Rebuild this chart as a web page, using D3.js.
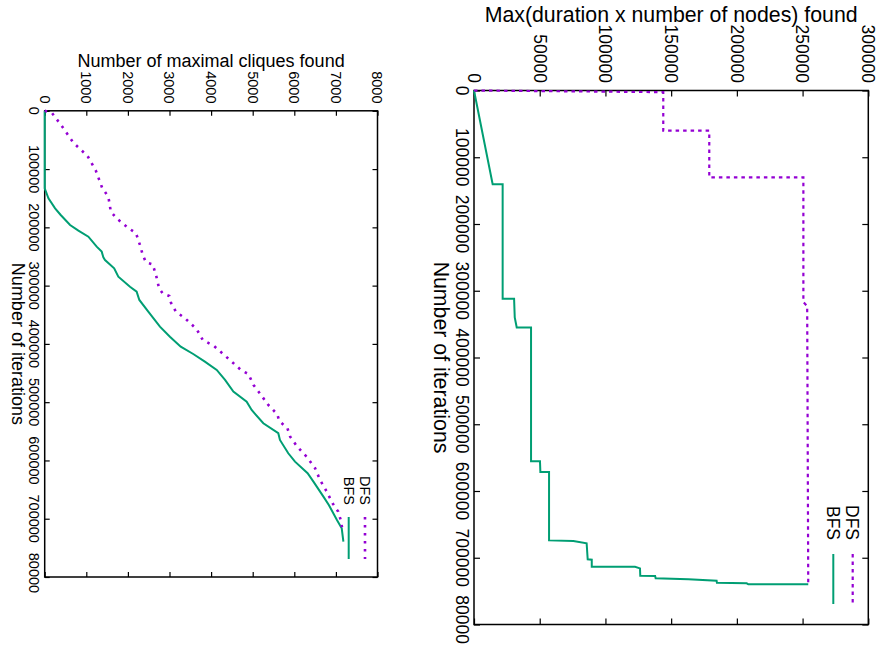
<!DOCTYPE html>
<html>
<head>
<meta charset="utf-8">
<script src="https://cdn.jsdelivr.net/npm/d3@7/dist/d3.min.js"></script>
<style>
  html, body { margin: 0; padding: 0; background: #fff; }
  svg { display: block; }
  text { font-family: "Liberation Sans", Arial, Helvetica, sans-serif; fill: #000; }
</style>
</head>
<body>
<svg id="chart" width="878" height="646"></svg>
<script>
// ---------------- DATA ----------------
const iterTicks = [0, 100000, 200000, 300000, 400000, 500000, 600000, 700000, 800000];
const iterTickLabels = ["0", "100000", "200000", "300000", "400000", "500000", "600000", "700000", "80000"];
const cliqueTicks = [0, 1000, 2000, 3000, 4000, 5000, 6000, 7000, 8000];
const durationTicks = [0, 50000, 100000, 150000, 200000, 250000, 300000];
const seriesNames = ["DFS", "BFS"];

// [iteration, number of maximal cliques found]
const cliquesDFS = [
  [0, 0], [3300, 170], [26100, 410], [54700, 690], [77600, 1030], [102800, 1230],
  [133000, 1385], [147400, 1530], [173100, 1590], [184500, 1730], [200000, 1990],
  [210200, 2195], [230300, 2290], [248000, 2360], [260000, 2435], [263400, 2595],
  [281700, 2675], [304600, 2750], [313200, 2835], [317800, 2995], [329300, 3035],
  [344700, 3155], [356100, 3375], [375000, 3655], [393300, 3800], [403600, 4070],
  [427600, 4450], [445900, 4735], [451600, 4895], [470500, 5020], [484700, 5170],
  [504800, 5375], [520800, 5590], [532300, 5640], [544800, 5835], [559200, 5900],
  [576300, 6070], [594600, 6310], [613400, 6500], [633500, 6620], [653500, 6780],
  [673500, 6920], [687800, 7055], [702100, 7115], [716000, 7150]
];
const cliquesBFS = [
  [0, 0], [133000, 0], [150100, 90], [167300, 250], [178800, 385], [196000, 610],
  [205700, 810], [216000, 1050], [233200, 1250], [241700, 1370], [251400, 1410],
  [256000, 1450], [270300, 1670], [284600, 1770], [301800, 2050], [310400, 2210],
  [324600, 2275], [344700, 2490], [370400, 2770], [387600, 3010], [404800, 3270],
  [417300, 3570], [430500, 3850], [444700, 4135], [461900, 4335], [481900, 4535],
  [499100, 4855], [513400, 4975], [536200, 5255], [553300, 5615], [564800, 5655],
  [587700, 5855], [602100, 6017], [622000, 6320], [636400, 6460], [644900, 6540],
  [662100, 6700], [676400, 6830], [702100, 7025], [716400, 7140], [739300, 7180]
];
// [iteration, max(duration x number of nodes) found]
const durationDFS = [
  [0, 0], [2500, 144000], [60000, 144000], [60000, 179000], [130000, 179000],
  [130000, 250600], [317000, 250600], [323000, 253500], [739700, 254300]
];
const durationBFS = [
  [0, 0], [140400, 14200], [140400, 21800], [312000, 21800], [312000, 30500],
  [340000, 31000], [348000, 31800], [355000, 32500], [355000, 43400], [555500, 43400],
  [555500, 50200], [571500, 50500], [571500, 57100], [674000, 57100], [675000, 75600],
  [678300, 85700], [702300, 86500], [703000, 89600], [713400, 89600], [713400, 122500],
  [716000, 126300], [726900, 126500], [727200, 137800], [730800, 138200],
  [732300, 163100], [734300, 184600], [737300, 184800], [738300, 207500],
  [739700, 208700], [739700, 254300]
];

const GREEN = "#009e73", PURPLE = "#9400d3";

const svg = d3.select("#chart");

function drawPanel(cfg) {
  const g = svg.append("g");
  const x = d3.scaleLinear().domain([0, cfg.vmax]).range([cfg.l, cfg.r]);
  const y = d3.scaleLinear().domain([0, 800000]).range([cfg.t, cfg.b]);

  // inward ticks on all four sides
  const tk = cfg.tick;
  const axes = [
    [d3.axisTop(x).tickValues(cfg.vTicks), `translate(0,${cfg.t})`],
    [d3.axisBottom(x).tickValues(cfg.vTicks), `translate(0,${cfg.b})`],
    [d3.axisLeft(y).tickValues(iterTicks), `translate(${cfg.l},0)`],
    [d3.axisRight(y).tickValues(iterTicks), `translate(${cfg.r},0)`]
  ];
  axes.forEach(([ax, tr]) => {
    const a = g.append("g").attr("transform", tr)
      .call(ax.tickSizeInner(-tk).tickSizeOuter(0).tickFormat(""));
    a.select(".domain").remove();
    a.selectAll("line").attr("stroke", "#000").attr("stroke-width", 1.2);
  });

  // border
  g.append("rect").attr("x", cfg.l).attr("y", cfg.t)
    .attr("width", cfg.r - cfg.l).attr("height", cfg.b - cfg.t)
    .attr("fill", "none").attr("stroke", "#000").attr("stroke-width", 1.5);

  // series
  const line = d3.line().x(d => x(d[1])).y(d => y(d[0]));
  g.append("path").datum(cfg.bfs).attr("d", line)
    .attr("fill", "none").attr("stroke", GREEN).attr("stroke-width", cfg.bfsW)
    .attr("stroke-linejoin", "miter");
  g.append("path").datum(cfg.dfs).attr("d", line)
    .attr("fill", "none").attr("stroke", PURPLE).attr("stroke-width", cfg.dfsW)
    .attr("stroke-dasharray", cfg.dash);

  // value tick labels (rotated, above the box)
  g.selectAll(".vlab").data(cfg.vTicks).join("text")
    .attr("class", "vlab")
    .attr("transform", d => `translate(${x(d)},${cfg.vLabEnd}) rotate(90)`)
    .attr("text-anchor", "end").attr("dy", "0.35em")
    .style("font-size", cfg.fs + "px")
    .text(d => d3.format("d")(d));

  // iteration tick labels (rotated, left of the box)
  const probe = g.append("text").style("font-size", cfg.fs + "px").text("800000");
  const fullW = probe.node().getComputedTextLength();
  probe.remove();
  g.selectAll(".ilab").data(iterTicks).join("text")
    .attr("class", "ilab")
    .attr("transform", (d, i) => {
      const last = i === iterTicks.length - 1;
      const py = last ? y(d) - fullW / 2 : y(d);
      return `translate(${cfg.iLabX},${py}) rotate(90)`;
    })
    .attr("text-anchor", (d, i) => i === iterTicks.length - 1 ? "start" : "middle")
    .style("font-size", cfg.fs + "px")
    .text((d, i) => iterTickLabels[i]);

  // axis titles
  g.append("text").attr("x", (cfg.l + cfg.r) / 2).attr("y", cfg.titleY)
    .attr("text-anchor", "middle").style("font-size", cfg.lfs + "px")
    .text(cfg.title);
  g.append("text")
    .attr("transform", `translate(${cfg.xTitleX},${(cfg.t + cfg.b) / 2}) rotate(90)`)
    .attr("text-anchor", "middle").style("font-size", cfg.lfs + "px")
    .text("Number of iterations");

  // legend
  const cap = 0.716 * cfg.fs;
  const leg = [
    { name: seriesNames[0], sx: cfg.legDfsX, color: PURPLE, dash: cfg.dash, w: cfg.dfsW },
    { name: seriesNames[1], sx: cfg.legBfsX, color: GREEN, dash: null, w: cfg.bfsW }
  ];
  leg.forEach(e => {
    g.append("text")
      .attr("transform", `translate(${e.sx - cap / 2},${cfg.legTextEnd}) rotate(90)`)
      .attr("text-anchor", "end").style("font-size", cfg.fs + "px")
      .text(e.name);
    g.append("line").attr("x1", e.sx).attr("x2", e.sx)
      .attr("y1", cfg.legY1).attr("y2", cfg.legY2)
      .attr("stroke", e.color).attr("stroke-width", e.w)
      .attr("stroke-dasharray", e.dash);
  });
}

// left panel: number of maximal cliques
drawPanel({
  l: 44.7, r: 377.5, t: 110.8, b: 577, vmax: 8000, vTicks: cliqueTicks,
  tick: 5, fs: 14.5, lfs: 18,
  title: "Number of maximal cliques found", titleY: 66.5,
  vLabEnd: 103.5, iLabX: 29, xTitleX: 11.5,
  dfs: cliquesDFS, bfs: cliquesBFS, dfsW: 2.6, bfsW: 2, dash: "2.5,5.5",
  legDfsX: 365, legBfsX: 348.7, legTextEnd: 505, legY1: 517, legY2: 559
});

// right panel: max(duration x number of nodes)
drawPanel({
  l: 474, r: 868.3, t: 90.5, b: 624.5, vmax: 300000, vTicks: durationTicks,
  tick: 6, fs: 17.5, lfs: 21.3,
  title: "Max(duration x number of nodes) found", titleY: 22,
  vLabEnd: 83, iLabX: 456, xTitleX: 434,
  dfs: durationDFS, bfs: durationBFS, dfsW: 2.2, bfsW: 2, dash: "3.5,4",
  legDfsX: 852.7, legBfsX: 833.3, legTextEnd: 540, legY1: 554, legY2: 604
});
</script>
</body>
</html>
